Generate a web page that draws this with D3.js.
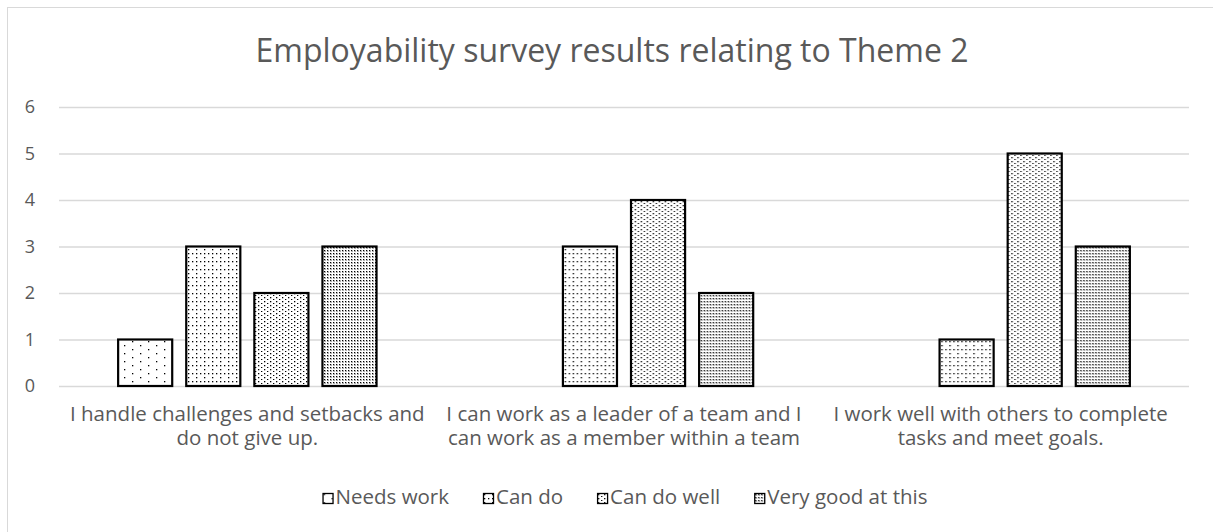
<!DOCTYPE html>
<html>
<head lang="en">
    <meta charset="UTF-8">
    <title>Employability survey</title>
    <script src="https://cdnjs.cloudflare.com/ajax/libs/d3/7.8.5/d3.min.js"></script>
    <style>
        body { margin: 0; background: #fff; }
        text { font-family: "Open Sans", sans-serif; fill: #595959; }
    </style>
</head>
<body>

<script>

    var categories = [
        ["I handle challenges and setbacks and", "do not give up."],
        ["I can work as a leader of a team and I", "can work as a member within a team"],
        ["I work well with others to complete", "tasks and meet goals."]
    ];
    var series = ["Needs work", "Can do", "Can do well", "Very good at this"];
    var needsWork = [1, 0, 0];
    var canDo = [3, 3, 1];
    var canDoWell = [2, 4, 5];
    var veryGood = [3, 2, 3];
    var yTicks = [0, 1, 2, 3, 4, 5, 6];
    var title = "Employability survey results relating to Theme 2";

    var values = [needsWork, canDo, canDoWell, veryGood];

    var width = 1213, height = 532;
    var plotLeft = 59, plotRight = 1189, plotTop = 107, plotBottom = 386;

    var svg = d3.select("body").append("svg")
        .attr("width", width)
        .attr("height", height);

    // patterns (dot fills like excel's 5% / 10% / 20% / 25%)
    var defs = svg.append("defs");
    var pats = [
        {id: "p0", w: 16, h: 8, dots: [[0, 0], [8, 4]]},
        {id: "p1", w: 8, h: 8, dots: [[0, 0], [4, 4], [0, 4]]},
        {id: "p2", w: 6, h: 4, dots: [[0, 0], [3, 2]]},
        {id: "p3", w: 3, h: 3, dots: [[0, 0], [1.5, 1.5]]}
    ];
    pats.forEach(function(p){
        var pat = defs.append("pattern")
            .attr("id", p.id)
            .attr("patternUnits", "userSpaceOnUse")
            .attr("width", p.w)
            .attr("height", p.h);
        pat.append("rect").attr("width", p.w).attr("height", p.h).attr("fill", "#fff");
        p.dots.forEach(function(d){
            pat.append("rect").attr("x", d[0] + 1).attr("y", d[1] + 1)
                .attr("width", 1.3).attr("height", 1.3).attr("fill", "#000");
        });
    });

    // chart border
    svg.append("rect")
        .attr("x", 7.5).attr("y", 7.5)
        .attr("width", 1230).attr("height", 540)
        .attr("fill", "none")
        .attr("stroke", "#d9d9d9");

    var x0 = d3.scaleBand()
        .domain(d3.range(categories.length))
        .range([plotLeft, plotRight]);

    var gap = x0.bandwidth() * 0.157;
    var x1 = d3.scaleBand()
        .domain(d3.range(series.length))
        .range([gap, x0.bandwidth() - gap])
        .paddingInner(0.206);

    var y = d3.scaleLinear()
        .domain([0, 6])
        .range([plotBottom, plotTop]);

    // gridlines + y labels
    var yAxis = d3.axisLeft(y).tickValues(yTicks).tickFormat(d3.format("d"))
        .tickSize(-(plotRight - plotLeft)).tickPadding(24);
    var ya = svg.append("g").attr("transform", "translate(" + plotLeft + ",0)").call(yAxis);
    ya.select(".domain").remove();
    ya.selectAll("line").attr("stroke", "#d9d9d9").attr("stroke-width", 1.3);
    ya.selectAll("text").style("font-size", "18px").attr("fill", "#595959")
        .style("font-family", "Open Sans, sans-serif");

    // bars
    var groups = svg.selectAll(".grp")
        .data(categories)
        .enter()
        .append("g")
        .attr("transform", function(d, i){ return "translate(" + x0(i) + ",0)"; });

    groups.selectAll("rect")
        .data(function(d, i){
            return series.map(function(s, j){ return {s: j, v: values[j][i]}; })
                .filter(function(e){ return e.v > 0; });
        })
        .enter()
        .append("rect")
        .attr("x", function(d){ return x1(d.s); })
        .attr("y", function(d){ return y(d.v); })
        .attr("width", x1.bandwidth())
        .attr("height", function(d){ return y(0) - y(d.v); })
        .attr("fill", function(d){ return "url(#p" + d.s + ")"; })
        .attr("stroke", "#000")
        .attr("stroke-width", 2.2);

    // category labels, one text per line
    groups.each(function(d, i){
        var g = d3.select(this);
        d.forEach(function(line, k){
            g.append("text")
                .attr("text-anchor", "middle")
                .style("font-size", "20.5px")
                .attr("x", x0.bandwidth() / 2)
                .attr("y", 421 + k * 24)
                .text(line);
        });
    });

    // title
    svg.append("text")
        .attr("x", 612)
        .attr("y", 62)
        .attr("text-anchor", "middle")
        .style("font-size", "32px")
        .text(title);

    // legend
    var legend = svg.append("g");
    var lx = 0, lgap = 34;
    series.forEach(function(s, j){
        var item = legend.append("g").attr("transform", "translate(" + lx + ",0)");
        item.append("rect")
            .attr("x", 0.5).attr("y", 0.5)
            .attr("width", 10).attr("height", 10)
            .attr("fill", "url(#p" + j + ")")
            .attr("stroke", "#000")
            .attr("stroke-width", 1.3);
        var t = item.append("text")
            .attr("x", 13)
            .attr("y", 11)
            .style("font-size", "20.5px")
            .text(s);
        lx += 13 + t.node().getComputedTextLength() + lgap;
    });
    legend.attr("transform", "translate(" + (625 - (lx - lgap) / 2) + ",493)");

</script>

</body>
</html>
